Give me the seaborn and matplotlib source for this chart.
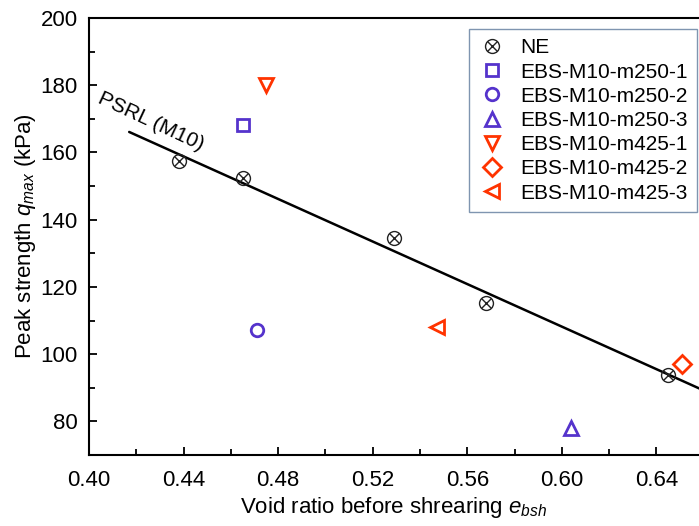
import matplotlib
matplotlib.use("Agg")
import matplotlib.pyplot as plt
import seaborn as sns
import numpy as np
from matplotlib.ticker import MultipleLocator

sns.set_style("ticks")
plt.rcParams['font.family'] = ['Liberation Sans', 'DejaVu Sans']
plt.rcParams['mathtext.fontset'] = 'custom'
plt.rcParams['mathtext.rm'] = 'Liberation Sans'
plt.rcParams['mathtext.it'] = 'Liberation Sans:italic'
for k in ['text.color', 'axes.labelcolor', 'xtick.color', 'ytick.color', 'axes.edgecolor']:
    plt.rcParams[k] = 'black'

# Data
ne_e = [0.438, 0.465, 0.529, 0.568, 0.645]
ne_q = [157.6, 152.3, 134.5, 115.2, 93.8]

series_labels = ["EBS-M10-m250-1", "EBS-M10-m250-2", "EBS-M10-m250-3",
                 "EBS-M10-m425-1", "EBS-M10-m425-2", "EBS-M10-m425-3"]
series_e = [0.465, 0.471, 0.604, 0.475, 0.651, 0.547]
series_q = [168.1, 107.3, 77.9, 180.0, 97.0, 108.2]

psrl_e = [0.417, 0.66]
psrl_q = [166.1, 89.2]

blue = '#5533cc'
red = '#ff3300'
series_colors = [blue, blue, blue, red, red, red]
series_markers = ['s', 'o', '^', 'v', 'D', '<']
series_sizes = [8, 9, 10, 10, 9, 10]

fig = plt.figure(figsize=(6.99, 5.26), dpi=100)
ax = fig.add_axes([89/699, 1-455/526, 1-89/699, (455-18)/526])

sns.lineplot(x=psrl_e, y=psrl_q, ax=ax, color='black', linewidth=1.8, legend=False)

# NE: circle with cross
h1 = ax.plot(ne_e, ne_q, linestyle='none', marker='o', markersize=10,
             markerfacecolor='none', markeredgecolor='#222222', markeredgewidth=1.0)[0]
h2 = ax.plot(ne_e, ne_q, linestyle='none', marker='x', markersize=7,
             markeredgecolor='#222222', markeredgewidth=1.0)[0]
handles = [(h1, h2)]
labels = ['NE']

for lab, e, q, c, m, s in zip(series_labels, series_e, series_q, series_colors, series_markers, series_sizes):
    h = ax.plot([e], [q], linestyle='none', marker=m, markersize=s,
                markerfacecolor='none', markeredgecolor=c, markeredgewidth=2.0)[0]
    handles.append(h)
    labels.append(lab)

ax.set_xlim(0.40, 0.658)
ax.set_ylim(70, 200)
ax.xaxis.set_minor_locator(MultipleLocator(0.02))
ax.yaxis.set_minor_locator(MultipleLocator(10))
xt = np.arange(0.40, 0.6401, 0.04)
ax.set_xticks(xt)
ax.set_xticklabels([f"{v:.2f}" for v in xt])
ax.set_yticks(np.arange(80, 201, 20))
ax.tick_params(which='both', direction='in', labelsize=16, width=1.3, top=False, right=False)
ax.tick_params(which='major', length=6)
ax.tick_params(axis='x', which='major', pad=11)
ax.tick_params(axis='y', which='major', pad=8)
ax.tick_params(which='minor', length=4)

for sp in ['left', 'bottom', 'top']:
    ax.spines[sp].set_linewidth(1.5)
    ax.spines[sp].set_color('black')
ax.spines['right'].set_visible(False)

ax.set_xlabel(r"Void ratio before shrearing $\mathit{e}_{\mathit{bsh}}$", fontsize=16, labelpad=3)
ax.set_ylabel(r"Peak strength $\mathit{q}_{\mathit{max}}$ (kPa)", fontsize=16, labelpad=2)

ax.text(0.4262, 169.3, "PSRL (M10)", fontsize=15, rotation=-25,
        rotation_mode='anchor', ha='center', va='center',
        transform=ax.transData)

leg = ax.legend(handles, labels, loc='upper right',
                bbox_to_anchor=(697/699, 1-29/526), bbox_transform=fig.transFigure,
                fontsize=15, frameon=True, fancybox=False, framealpha=1,
                handlelength=1.3, handletextpad=0.7, labelspacing=0.25,
                borderpad=0.45, borderaxespad=0)
leg.get_frame().set_edgecolor('#7f95b0')
leg.get_frame().set_linewidth(1.0)

fig.savefig("out.png", dpi=100)
